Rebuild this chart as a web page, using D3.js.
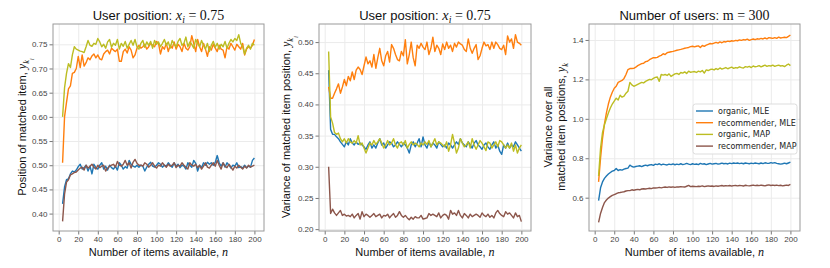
<!DOCTYPE html>
<html>
<head>
<meta charset="utf-8">
<script src="https://cdn.jsdelivr.net/npm/d3@7"></script>
<style>
  body { margin: 0; background: #fff; }
  svg { display: block; font-family: "DejaVu Sans", sans-serif; }
  .tick text { fill: #444; font-size: 8px; }
  .tick line { stroke: #777; }
  .grid line { stroke: #ebebeb; }
  .grid path { display: none; }
  .lbl { font-family: "Liberation Sans", Arial, sans-serif; fill: #111; }
</style>
</head>
<body>
<svg id="chart" width="830" height="268"></svg>
<script>
// number of items available, n = 4, 6, ..., 200
const nItems = d3.range(4, 201, 2)

const seriesNames = ["organic, MLE", "recommender, MLE", "organic, MAP", "recommender, MAP"]
const seriesColors = ["#1f77b4", "#ff7f0e", "#bcbd22", "#8c564b"]

const xTicks = [0, 20, 40, 60, 80, 100, 120, 140, 160, 180, 200]
const yTicks1 = [0.40, 0.45, 0.50, 0.55, 0.60, 0.65, 0.70, 0.75]
const yTicks2 = [0.20, 0.25, 0.30, 0.35, 0.40, 0.45, 0.50]
const yTicks3 = [0.6, 0.8, 1.0, 1.2, 1.4]

// panel 1: position of matched item
const p1_orgMLE = [
  0.420, 0.455, 0.470, 0.472, 0.482, 0.488, 0.486, 0.490, 0.497, 0.502,
  0.492, 0.495, 0.500, 0.488, 0.498, 0.482, 0.502, 0.495, 0.492, 0.500,
  0.505, 0.492, 0.498, 0.490, 0.500, 0.495, 0.492, 0.498, 0.490, 0.505,
  0.500, 0.492, 0.497, 0.494, 0.510, 0.502, 0.498, 0.496, 0.500, 0.496,
  0.500, 0.498, 0.488, 0.496, 0.502, 0.506, 0.498, 0.496, 0.500, 0.505,
  0.502, 0.496, 0.500, 0.498, 0.505, 0.500, 0.496, 0.505, 0.498, 0.502,
  0.495, 0.500, 0.498, 0.492, 0.505, 0.500, 0.496, 0.510, 0.504, 0.488,
  0.500, 0.495, 0.505, 0.500, 0.506, 0.502, 0.505, 0.500, 0.506, 0.520,
  0.505, 0.498, 0.505, 0.496, 0.505, 0.500, 0.494, 0.500, 0.498, 0.505,
  0.495, 0.497, 0.494, 0.500, 0.495, 0.498, 0.496, 0.510, 0.515]
const p1_recMLE = [
  0.505, 0.600, 0.630, 0.658, 0.664, 0.690, 0.692, 0.700, 0.725, 0.702,
  0.728, 0.705, 0.712, 0.722, 0.718, 0.726, 0.730, 0.722, 0.728, 0.720,
  0.718, 0.730, 0.735, 0.738, 0.730, 0.742, 0.738, 0.735, 0.740, 0.715,
  0.715, 0.735, 0.740, 0.732, 0.745, 0.738, 0.722, 0.728, 0.742, 0.748,
  0.742, 0.745, 0.750, 0.740, 0.745, 0.752, 0.748, 0.745, 0.756, 0.752,
  0.730, 0.745, 0.740, 0.752, 0.735, 0.748, 0.742, 0.755, 0.740, 0.750,
  0.745, 0.735, 0.752, 0.742, 0.738, 0.745, 0.768, 0.752, 0.735, 0.760,
  0.745, 0.735, 0.752, 0.740, 0.725, 0.745, 0.738, 0.750, 0.742, 0.735,
  0.748, 0.740, 0.738, 0.722, 0.745, 0.740, 0.752, 0.745, 0.738, 0.750,
  0.745, 0.740, 0.752, 0.728, 0.740, 0.745, 0.742, 0.748, 0.760]
const p1_orgMAP = [
  0.600, 0.660, 0.690, 0.710, 0.702, 0.728, 0.745, 0.740, 0.738, 0.736,
  0.735, 0.733, 0.745, 0.758, 0.748, 0.746, 0.752, 0.750, 0.762, 0.755,
  0.745, 0.750, 0.742, 0.755, 0.760, 0.744, 0.752, 0.748, 0.760, 0.740,
  0.752, 0.746, 0.756, 0.742, 0.750, 0.758, 0.748, 0.760, 0.745, 0.740,
  0.752, 0.758, 0.744, 0.755, 0.748, 0.756, 0.742, 0.758, 0.750, 0.755,
  0.745, 0.752, 0.760, 0.748, 0.755, 0.742, 0.758, 0.750, 0.745, 0.756,
  0.762, 0.748, 0.752, 0.765, 0.745, 0.755, 0.750, 0.742, 0.760, 0.752,
  0.745, 0.758, 0.748, 0.740, 0.752, 0.735, 0.748, 0.756, 0.744, 0.752,
  0.740, 0.750, 0.745, 0.756, 0.742, 0.752, 0.760, 0.755, 0.762, 0.758,
  0.770, 0.752, 0.745, 0.730, 0.742, 0.748, 0.740, 0.752, 0.748]
const p1_recMAP = [
  0.384, 0.440, 0.465, 0.470, 0.480, 0.482, 0.485, 0.486, 0.490, 0.494,
  0.496, 0.490, 0.500, 0.494, 0.498, 0.502, 0.496, 0.492, 0.500, 0.495,
  0.498, 0.500, 0.488, 0.494, 0.498, 0.500, 0.502, 0.496, 0.508, 0.500,
  0.498, 0.502, 0.510, 0.500, 0.505, 0.494, 0.506, 0.512, 0.504, 0.500,
  0.500, 0.498, 0.505, 0.502, 0.496, 0.500, 0.505, 0.498, 0.494, 0.500,
  0.498, 0.505, 0.500, 0.496, 0.502, 0.498, 0.500, 0.505, 0.495, 0.500,
  0.498, 0.505, 0.500, 0.496, 0.492, 0.505, 0.500, 0.498, 0.502, 0.495,
  0.500, 0.492, 0.498, 0.505, 0.496, 0.494, 0.500, 0.505, 0.498, 0.510,
  0.500, 0.492, 0.505, 0.498, 0.495, 0.502, 0.496, 0.490, 0.498, 0.494,
  0.500, 0.496, 0.492, 0.498, 0.494, 0.500, 0.496, 0.498, 0.500]

// panel 2: variance of matched item position
const p2_orgMLE = [
  0.455, 0.360, 0.352, 0.352, 0.348, 0.345, 0.340, 0.336, 0.332, 0.340,
  0.335, 0.345, 0.338, 0.335, 0.340, 0.336, 0.338, 0.335, 0.332, 0.328,
  0.335, 0.340, 0.330, 0.335, 0.330, 0.338, 0.345, 0.335, 0.338, 0.330,
  0.335, 0.340, 0.338, 0.332, 0.335, 0.340, 0.336, 0.332, 0.338, 0.335,
  0.330, 0.322, 0.335, 0.340, 0.332, 0.338, 0.345, 0.332, 0.348, 0.335,
  0.330, 0.340, 0.332, 0.338, 0.335, 0.330, 0.340, 0.336, 0.332, 0.335,
  0.330, 0.338, 0.335, 0.330, 0.335, 0.340, 0.336, 0.345, 0.338, 0.335,
  0.332, 0.340, 0.335, 0.330, 0.338, 0.342, 0.335, 0.332, 0.328, 0.335,
  0.338, 0.332, 0.328, 0.335, 0.340, 0.330, 0.335, 0.325, 0.320, 0.335,
  0.330, 0.338, 0.330, 0.335, 0.332, 0.340, 0.335, 0.330, 0.325]
const p2_recMLE = [
  0.428, 0.410, 0.410, 0.418, 0.425, 0.433, 0.418, 0.428, 0.440, 0.430,
  0.445, 0.438, 0.452, 0.440, 0.455, 0.460, 0.456, 0.448, 0.462, 0.476,
  0.465, 0.470, 0.460, 0.480, 0.458, 0.475, 0.490, 0.470, 0.462, 0.478,
  0.485, 0.468, 0.496, 0.490, 0.480, 0.472, 0.470, 0.485, 0.478, 0.504,
  0.465, 0.480, 0.500, 0.475, 0.462, 0.495, 0.490, 0.498, 0.492, 0.488,
  0.500, 0.480, 0.490, 0.508, 0.485, 0.495, 0.490, 0.480, 0.497, 0.488,
  0.500, 0.490, 0.495, 0.485, 0.498, 0.492, 0.500, 0.497, 0.495, 0.488,
  0.485, 0.505, 0.490, 0.482, 0.490, 0.496, 0.472, 0.478, 0.490, 0.500,
  0.494, 0.496, 0.488, 0.500, 0.490, 0.500, 0.496, 0.490, 0.488, 0.495,
  0.480, 0.510, 0.500, 0.505, 0.490, 0.512, 0.500, 0.498, 0.495]
const p2_orgMAP = [
  0.485, 0.380, 0.370, 0.355, 0.352, 0.354, 0.345, 0.340, 0.345, 0.338,
  0.345, 0.340, 0.338, 0.342, 0.338, 0.350, 0.335, 0.338, 0.330, 0.322,
  0.330, 0.338, 0.335, 0.342, 0.336, 0.340, 0.345, 0.338, 0.330, 0.335,
  0.342, 0.335, 0.338, 0.345, 0.335, 0.330, 0.338, 0.340, 0.335, 0.342,
  0.330, 0.336, 0.340, 0.335, 0.338, 0.336, 0.332, 0.338, 0.335, 0.340,
  0.336, 0.342, 0.332, 0.338, 0.345, 0.335, 0.340, 0.338, 0.335, 0.332,
  0.340, 0.325, 0.335, 0.352, 0.338, 0.322, 0.330, 0.345, 0.338, 0.332,
  0.335, 0.340, 0.330, 0.345, 0.335, 0.328, 0.335, 0.342, 0.338, 0.332,
  0.326, 0.340, 0.338, 0.330, 0.335, 0.340, 0.332, 0.342, 0.340, 0.335,
  0.330, 0.335, 0.330, 0.338, 0.325, 0.335, 0.322, 0.330, 0.335]
const p2_recMAP = [
  0.300, 0.225, 0.232, 0.226, 0.222, 0.226, 0.230, 0.222, 0.224, 0.221,
  0.222, 0.220, 0.224, 0.218, 0.222, 0.225, 0.216, 0.228, 0.220, 0.224,
  0.222, 0.219, 0.222, 0.225, 0.220, 0.222, 0.224, 0.218, 0.222, 0.221,
  0.224, 0.218, 0.222, 0.225, 0.219, 0.222, 0.228, 0.222, 0.219, 0.222,
  0.218, 0.215, 0.219, 0.216, 0.220, 0.218, 0.218, 0.222, 0.216, 0.217,
  0.218, 0.225, 0.222, 0.224, 0.222, 0.220, 0.226, 0.218, 0.222, 0.224,
  0.222, 0.216, 0.230, 0.224, 0.226, 0.222, 0.230, 0.222, 0.218, 0.225,
  0.222, 0.218, 0.224, 0.220, 0.222, 0.224, 0.222, 0.219, 0.226, 0.222,
  0.220, 0.224, 0.219, 0.222, 0.218, 0.226, 0.230, 0.225, 0.222, 0.220,
  0.228, 0.224, 0.226, 0.222, 0.218, 0.226, 0.220, 0.222, 0.212]

// panel 3: variance over all matched item positions (m = 300)
const p3_orgMLE = [
  0.585, 0.650, 0.680, 0.698, 0.710, 0.720, 0.728, 0.735, 0.738, 0.748,
  0.738, 0.742, 0.740, 0.745, 0.748, 0.750, 0.765, 0.758, 0.755, 0.758,
  0.760, 0.762, 0.758, 0.762, 0.765, 0.762, 0.766, 0.768, 0.764, 0.770,
  0.768, 0.772, 0.766, 0.770, 0.768, 0.766, 0.770, 0.768, 0.771, 0.767,
  0.770, 0.768, 0.772, 0.768, 0.770, 0.774, 0.770, 0.768, 0.772, 0.769,
  0.771, 0.768, 0.774, 0.770, 0.772, 0.768, 0.771, 0.774, 0.770, 0.772,
  0.774, 0.770, 0.772, 0.775, 0.772, 0.774, 0.771, 0.775, 0.773, 0.776,
  0.774, 0.776, 0.773, 0.775, 0.772, 0.776, 0.774, 0.772, 0.775, 0.773,
  0.776, 0.774, 0.772, 0.776, 0.773, 0.777, 0.775, 0.774, 0.778, 0.775,
  0.778, 0.774, 0.772, 0.770, 0.772, 0.775, 0.772, 0.776, 0.780]
const p3_recMLE = [
  0.680, 0.800, 0.900, 0.975, 1.030, 1.075, 1.110, 1.135, 1.155, 1.165,
  1.185, 1.190, 1.195, 1.205, 1.225, 1.250, 1.255, 1.255, 1.256, 1.262,
  1.270, 1.275, 1.280, 1.282, 1.290, 1.292, 1.300, 1.305, 1.310, 1.310,
  1.312, 1.318, 1.322, 1.330, 1.326, 1.335, 1.338, 1.340, 1.342, 1.345,
  1.348, 1.350, 1.352, 1.355, 1.358, 1.360, 1.362, 1.366, 1.368, 1.365,
  1.368, 1.370, 1.362, 1.372, 1.368, 1.374, 1.378, 1.382, 1.380, 1.384,
  1.388, 1.384, 1.390, 1.386, 1.392, 1.390, 1.394, 1.392, 1.396, 1.394,
  1.398, 1.396, 1.400, 1.398, 1.402, 1.400, 1.404, 1.398, 1.402, 1.405,
  1.402, 1.406, 1.404, 1.408, 1.405, 1.410, 1.406, 1.412, 1.410, 1.408,
  1.412, 1.408, 1.414, 1.410, 1.412, 1.414, 1.412, 1.418, 1.425]
const p3_orgMAP = [
  0.710, 0.850, 0.930, 0.970, 1.000, 1.030, 1.055, 1.075, 1.090, 1.105,
  1.095, 1.120, 1.110, 1.115, 1.130, 1.140, 1.185, 1.172, 1.165, 1.170,
  1.175, 1.180, 1.185, 1.182, 1.190, 1.195, 1.200, 1.198, 1.205, 1.210,
  1.212, 1.190, 1.225, 1.222, 1.225, 1.220, 1.228, 1.215, 1.222, 1.228,
  1.230, 1.225, 1.235, 1.232, 1.238, 1.230, 1.242, 1.236, 1.238, 1.240,
  1.235, 1.242, 1.238, 1.245, 1.232, 1.248, 1.245, 1.250, 1.252, 1.248,
  1.255, 1.250, 1.258, 1.252, 1.256, 1.260, 1.254, 1.258, 1.262, 1.256,
  1.260, 1.258, 1.264, 1.260, 1.258, 1.265, 1.262, 1.266, 1.260, 1.268,
  1.264, 1.266, 1.270, 1.264, 1.268, 1.272, 1.266, 1.270, 1.268, 1.272,
  1.266, 1.270, 1.272, 1.268, 1.270, 1.265, 1.272, 1.278, 1.270]
const p3_recMAP = [
  0.475, 0.520, 0.550, 0.575, 0.588, 0.598, 0.605, 0.612, 0.616, 0.620,
  0.625, 0.626, 0.628, 0.630, 0.634, 0.636, 0.636, 0.640, 0.638, 0.640,
  0.642, 0.640, 0.644, 0.645, 0.644, 0.646, 0.648, 0.646, 0.650, 0.649,
  0.650, 0.652, 0.650, 0.652, 0.654, 0.652, 0.655, 0.653, 0.655, 0.652,
  0.655, 0.654, 0.656, 0.655, 0.654, 0.658, 0.662, 0.656, 0.658, 0.657,
  0.656, 0.658, 0.657, 0.660, 0.656, 0.658, 0.660, 0.658, 0.659, 0.657,
  0.660, 0.658, 0.660, 0.662, 0.659, 0.661, 0.660, 0.662, 0.659, 0.661,
  0.662, 0.660, 0.662, 0.661, 0.659, 0.663, 0.661, 0.660, 0.662, 0.664,
  0.661, 0.663, 0.661, 0.664, 0.662, 0.660, 0.663, 0.665, 0.662, 0.664,
  0.662, 0.664, 0.661, 0.663, 0.660, 0.662, 0.664, 0.662, 0.667]

const svg = d3.select("#chart")
const serif = "'Liberation Serif', 'DejaVu Serif', serif"

// math-style variable with stacked subscripts; returns how far below the baseline it ended
function mathVar(t, base, subs, size) {
  t.append("tspan").attr("font-family", serif).attr("font-style", "italic")
    .attr("font-size", size * 1.1).text(base)
  let shift = 0
  subs.forEach((s, i) => {
    const d = 3 + i * 1.5
    shift += d
    t.append("tspan").attr("font-family", serif).attr("font-style", "italic")
      .attr("font-size", size * (0.75 - i * 0.12)).attr("dy", d).text(s)
  })
  return shift
}

function panel(cfg) {
  const x = d3.scaleLinear().domain([-5.8, 209.8]).range([cfg.left, cfg.right])
  const y = d3.scaleLinear().domain(cfg.yDomain).range([231, 24])
  const g = svg.append("g")

  // grid
  g.append("g").attr("class", "grid")
    .attr("transform", "translate(0,231)")
    .call(d3.axisBottom(x).tickValues(xTicks).tickSize(-207).tickFormat(""))
  g.append("g").attr("class", "grid")
    .attr("transform", `translate(${cfg.left},0)`)
    .call(d3.axisLeft(y).tickValues(cfg.yTicks).tickSize(-(cfg.right - cfg.left)).tickFormat(""))

  // lines
  const line = d3.line().x((d, i) => x(nItems[i])).y(d => y(d))
  cfg.series.forEach((s, k) => {
    g.append("path")
      .datum(s)
      .attr("fill", "none")
      .attr("stroke", seriesColors[k])
      .attr("stroke-width", 1.4)
      .attr("stroke-linejoin", "round")
      .attr("d", line)
  })

  // axes
  const xa = g.append("g").attr("transform", "translate(0,231)")
    .call(d3.axisBottom(x).tickValues(xTicks).tickSize(3.5).tickPadding(2))
  const ya = g.append("g").attr("transform", `translate(${cfg.left},0)`)
    .call(d3.axisLeft(y).tickValues(cfg.yTicks).tickSize(3.5).tickPadding(2).tickFormat(d3.format(cfg.fmt)))
  xa.select(".domain").remove()
  ya.select(".domain").remove()

  // frame
  g.append("rect")
    .attr("x", cfg.left).attr("y", 24)
    .attr("width", cfg.right - cfg.left).attr("height", 207)
    .attr("fill", "none").attr("stroke", "#9a9a9a").attr("stroke-width", 1)

  // title
  const cx = (cfg.left + cfg.right) / 2
  const title = g.append("text").attr("class", "lbl").attr("x", cx).attr("y", 20)
    .attr("text-anchor", "middle").attr("font-size", 13)
  cfg.title(title)

  // x label
  const xl = g.append("text").attr("class", "lbl").attr("x", cx).attr("y", 256)
    .attr("text-anchor", "middle").attr("font-size", 11)
  xl.append("tspan").text("Number of items available, ")
  mathVar(xl, "n", [], 11)

  cfg.ylabel(g)
}

function userTitle(t) {
  t.append("tspan").text("User position: ")
  const s = mathVar(t, "x", ["i"], 13)
  t.append("tspan").attr("dy", -s).attr("font-family", serif).attr("font-size", 14).text(" = 0.75")
}

panel({
  left: 53, right: 264, yDomain: [0.364, 0.792], yTicks: yTicks1, fmt: ".2f",
  series: [p1_orgMLE, p1_recMLE, p1_orgMAP, p1_recMAP],
  title: userTitle,
  ylabel: g => {
    const t = g.append("text").attr("class", "lbl").attr("transform", "translate(26,127) rotate(-90)")
      .attr("text-anchor", "middle").attr("font-size", 11)
    t.append("tspan").text("Position of matched item, ")
    mathVar(t, "y", ["k", "i"], 11)
  }
})

panel({
  left: 319, right: 531, yDomain: [0.197, 0.529], yTicks: yTicks2, fmt: ".2f",
  series: [p2_orgMLE, p2_recMLE, p2_orgMAP, p2_recMAP],
  title: userTitle,
  ylabel: g => {
    const t = g.append("text").attr("class", "lbl").attr("transform", "translate(290,127) rotate(-90)")
      .attr("text-anchor", "middle").attr("font-size", 11)
    t.append("tspan").text("Variance of matched item position, ")
    mathVar(t, "y", ["k", "i"], 11)
  }
})

panel({
  left: 589, right: 800, yDomain: [0.431, 1.481], yTicks: yTicks3, fmt: ".1f",
  series: [p3_orgMLE, p3_recMLE, p3_orgMAP, p3_recMAP],
  title: t => {
    t.append("tspan").text("Number of users: ")
    t.append("tspan").attr("font-family", serif).attr("font-size", 14).text("m = 300")
  },
  ylabel: g => {
    g.append("text").attr("class", "lbl").attr("transform", "translate(552,127) rotate(-90)")
      .attr("text-anchor", "middle").attr("font-size", 11)
      .text("Variance over all")
    const t = g.append("text").attr("class", "lbl").attr("transform", "translate(565,127) rotate(-90)")
      .attr("text-anchor", "middle").attr("font-size", 11)
    t.append("tspan").text("matched item positions, ")
    mathVar(t, "y", ["k"], 11)
  }
})

// legend in panel 3
const legend = svg.append("g").attr("transform", "translate(693,104)")
legend.append("rect")
  .attr("width", 104).attr("height", 50).attr("rx", 2.5)
  .attr("fill", "#fff").attr("fill-opacity", 0.85)
  .attr("stroke", "#ddd")
seriesNames.forEach((name, k) => {
  const row = legend.append("g").attr("transform", `translate(0,${7 + k * 11.7})`)
  row.append("line").attr("x1", 3).attr("x2", 20)
    .attr("stroke", seriesColors[k]).attr("stroke-width", 1.4)
  row.append("text").attr("x", 25).attr("y", 3)
    .attr("font-size", 8).attr("fill", "#222").text(name)
})
</script>
</body>
</html>
